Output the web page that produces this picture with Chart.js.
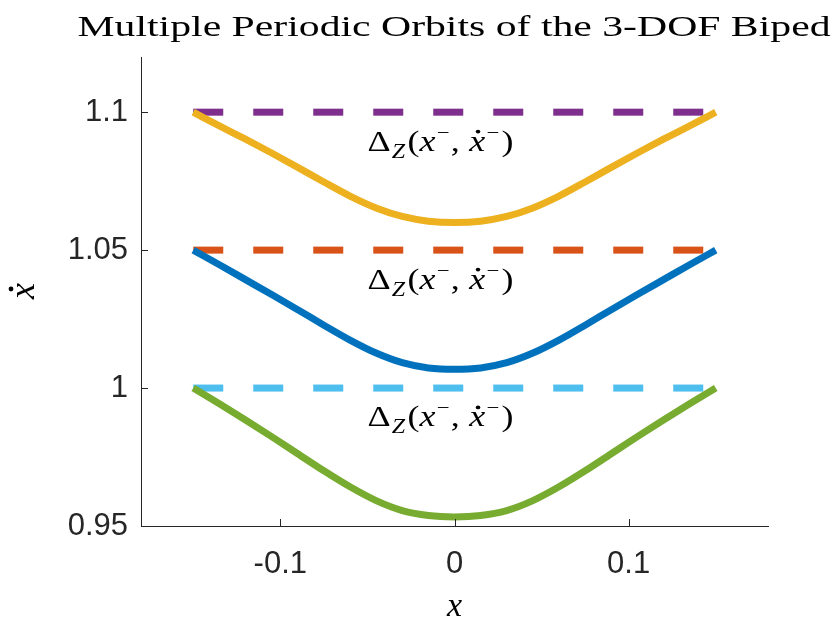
<!DOCTYPE html>
<html>
<head>
<meta charset="utf-8">
<script src="https://cdn.jsdelivr.net/npm/chart.js@4/dist/chart.umd.min.js"></script>
<style>
  html, body { margin: 0; padding: 0; background: #fff; }
  #c { display: block; }
</style>
</head>
<body>
<canvas id="c" width="837" height="627"></canvas>
<script>
// orbit samples
const xPos = [-0.15, -0.135, -0.12, -0.105, -0.09, -0.075, -0.06, -0.045, -0.03, -0.015, 0,
              0.015, 0.03, 0.045, 0.06, 0.075, 0.09, 0.105, 0.12, 0.135, 0.15];
const orbitHigh = [1.1, 1.095, 1.0902, 1.0852, 1.08, 1.0747, 1.0696, 1.0653, 1.0622, 1.0605, 1.06,
                   1.0605, 1.0622, 1.0653, 1.0696, 1.0747, 1.08, 1.0852, 1.0902, 1.095, 1.1];
const orbitMid = [1.05, 1.0447, 1.0393, 1.0339, 1.0284, 1.0228, 1.0174, 1.0127, 1.0092, 1.0073, 1.0068,
                  1.0073, 1.0092, 1.0127, 1.0174, 1.0228, 1.0284, 1.0339, 1.0393, 1.0447, 1.05];
const orbitLow = [1.0, 0.9943, 0.9884, 0.9824, 0.9762, 0.97, 0.9642, 0.9592, 0.9556, 0.9538, 0.9533,
                  0.9538, 0.9556, 0.9592, 0.9642, 0.97, 0.9762, 0.9824, 0.9884, 0.9943, 1.0];

// impact surfaces (dashed)
const impactX = [-0.15, 0.15];
const impactLevels = [1.1, 1.05, 1.0];

const xTicks = [-0.1, 0, 0.1];
const yTicks = [0.95, 1, 1.05, 1.1];

const titleText = 'Multiple Periodic Orbits of the 3-DOF Biped';
const labelX = -0.008;      // centre of the Delta labels (data units)
const labelDrop = 0.0103;   // how far below each dashed line

const orbitColors = ['#EDB120', '#0072BD', '#77AC30'];
const dashColors = ['#7E2F8E', '#D95319', '#4DBEEE'];

const pts = ys => xPos.map((x, i) => ({ x: x, y: ys[i] }));

const datasets = [];
[orbitHigh, orbitMid, orbitLow].forEach((ys, i) => {
  datasets.push({
    data: pts(ys),
    borderColor: orbitColors[i],
    borderWidth: 7,
    pointRadius: 0,
    cubicInterpolationMode: 'monotone',
    borderCapStyle: 'butt',
    fill: false
  });
});
impactLevels.forEach((lv, i) => {
  datasets.push({
    data: impactX.map(x => ({ x: x, y: lv })),
    borderColor: dashColors[i],
    borderWidth: 7,
    borderDash: [30, 30],
    borderCapStyle: 'butt',
    pointRadius: 0,
    fill: false
  });
});

const AX = '#262626';
const mathFont = '"Liberation Serif", "DejaVu Serif", serif';

// draws  Δ_Z(x⁻, ẋ⁻)  centred at cx, baseline by, squeezed/stretched to width tw
function drawDelta(ctx, cx, by, tw) {
  const parts = [
    { t: 'Δ', f: '30px ' + mathFont, dy: 0 },
    { t: 'Z', f: 'italic 20px ' + mathFont, dy: 7, gap: 1 },
    { t: '(', f: '30px ' + mathFont, dy: 0, gap: 2 },
    { t: 'x', f: 'italic 30px ' + mathFont, dy: 0 },
    { t: '−', f: '19px ' + mathFont, dy: -12, gap: 1 },
    { t: ',', f: '30px ' + mathFont, dy: 0, gap: 1 },
    { t: 'x', f: 'italic 30px ' + mathFont, dy: 0, gap: 8, dot: true },
    { t: '−', f: '19px ' + mathFont, dy: -12, gap: 1 },
    { t: ')', f: '30px ' + mathFont, dy: 0, gap: 2 }
  ];
  let w = 0;
  parts.forEach(p => { ctx.font = p.f; p.w = ctx.measureText(p.t).width; w += p.w + (p.gap || 0); });
  ctx.save();
  ctx.translate(cx - tw / 2, by);
  ctx.scale(tw / w, 1);
  let x = 0;
  ctx.fillStyle = '#000';
  ctx.textBaseline = 'alphabetic';
  ctx.textAlign = 'left';
  parts.forEach(p => {
    x += p.gap || 0;
    ctx.font = p.f;
    ctx.fillText(p.t, x, p.dy);
    if (p.dot) {
      ctx.beginPath();
      ctx.arc(x + p.w * 0.55, -19, 1.9, 0, Math.PI * 2);
      ctx.fill();
    }
    x += p.w;
  });
  ctx.restore();
}

const decor = {
  id: 'decor',
  afterDraw(chart) {
    const { ctx, chartArea: a, scales: { x, y } } = chart;
    ctx.save();

    // inward tick marks, matlab style
    ctx.strokeStyle = AX;
    ctx.lineWidth = 1;
    xTicks.forEach(v => {
      const px = Math.round(x.getPixelForValue(v)) + 0.5;
      ctx.beginPath(); ctx.moveTo(px, a.bottom); ctx.lineTo(px, a.bottom - 7); ctx.stroke();
    });
    yTicks.forEach(v => {
      const py = Math.round(y.getPixelForValue(v)) + 0.5;
      ctx.beginPath(); ctx.moveTo(a.left, py); ctx.lineTo(a.left + 7, py); ctx.stroke();
    });

    // Delta labels under each dashed line
    impactLevels.forEach(lv => {
      drawDelta(ctx, x.getPixelForValue(labelX), y.getPixelForValue(lv - labelDrop) + 10, 146);
    });

    // title
    ctx.fillStyle = '#000';
    ctx.textAlign = 'center';
    ctx.textBaseline = 'alphabetic';
    ctx.font = '29px ' + mathFont;
    const tw = ctx.measureText(titleText).width;
    ctx.save();
    ctx.translate(454, 36);
    ctx.scale(753 / tw, 1);
    ctx.fillText(titleText, 0, 0);
    ctx.restore();

    // x axis title
    ctx.font = 'italic 34px ' + mathFont;
    ctx.fillText('x', x.getPixelForValue(0), 616);

    // y axis title: x with a dot, rotated
    ctx.save();
    ctx.translate(34, 291);
    ctx.rotate(-Math.PI / 2);
    ctx.font = 'italic 36px ' + mathFont;
    ctx.fillText('x', 0, 0);
    ctx.beginPath();
    ctx.arc(2, -23, 2.4, 0, Math.PI * 2);
    ctx.fill();
    ctx.restore();

    ctx.restore();
  }
};

new Chart(document.getElementById('c'), {
  type: 'line',
  data: { datasets: datasets },
  options: {
    responsive: false,
    animation: false,
    events: [],
    layout: { padding: { left: 0, top: 57, right: 69, bottom: 0 } },
    plugins: { legend: { display: false }, tooltip: { enabled: false } },
    scales: {
      x: {
        type: 'linear',
        min: -0.18, max: 0.18,
        afterBuildTicks: s => { s.ticks = xTicks.map(v => ({ value: v })); },
        afterFit: s => { s.height = 101; },
        grid: { display: false, drawTicks: false },
        border: { display: true, color: AX, width: 1 },
        ticks: {
          color: AX, padding: 20,
          font: { family: '"Liberation Sans", Arial, sans-serif', size: 31 },
          callback: v => String(v)
        }
      },
      y: {
        type: 'linear',
        min: 0.95, max: 1.12,
        afterBuildTicks: s => { s.ticks = yTicks.map(v => ({ value: v })); },
        afterFit: s => { s.width = 141; },
        grid: { display: false, drawTicks: false },
        border: { display: true, color: AX, width: 1 },
        ticks: {
          color: AX, padding: 13,
          font: { family: '"Liberation Sans", Arial, sans-serif', size: 31 },
          callback: v => String(v)
        }
      }
    }
  },
  plugins: [decor]
});
</script>
</body>
</html>
